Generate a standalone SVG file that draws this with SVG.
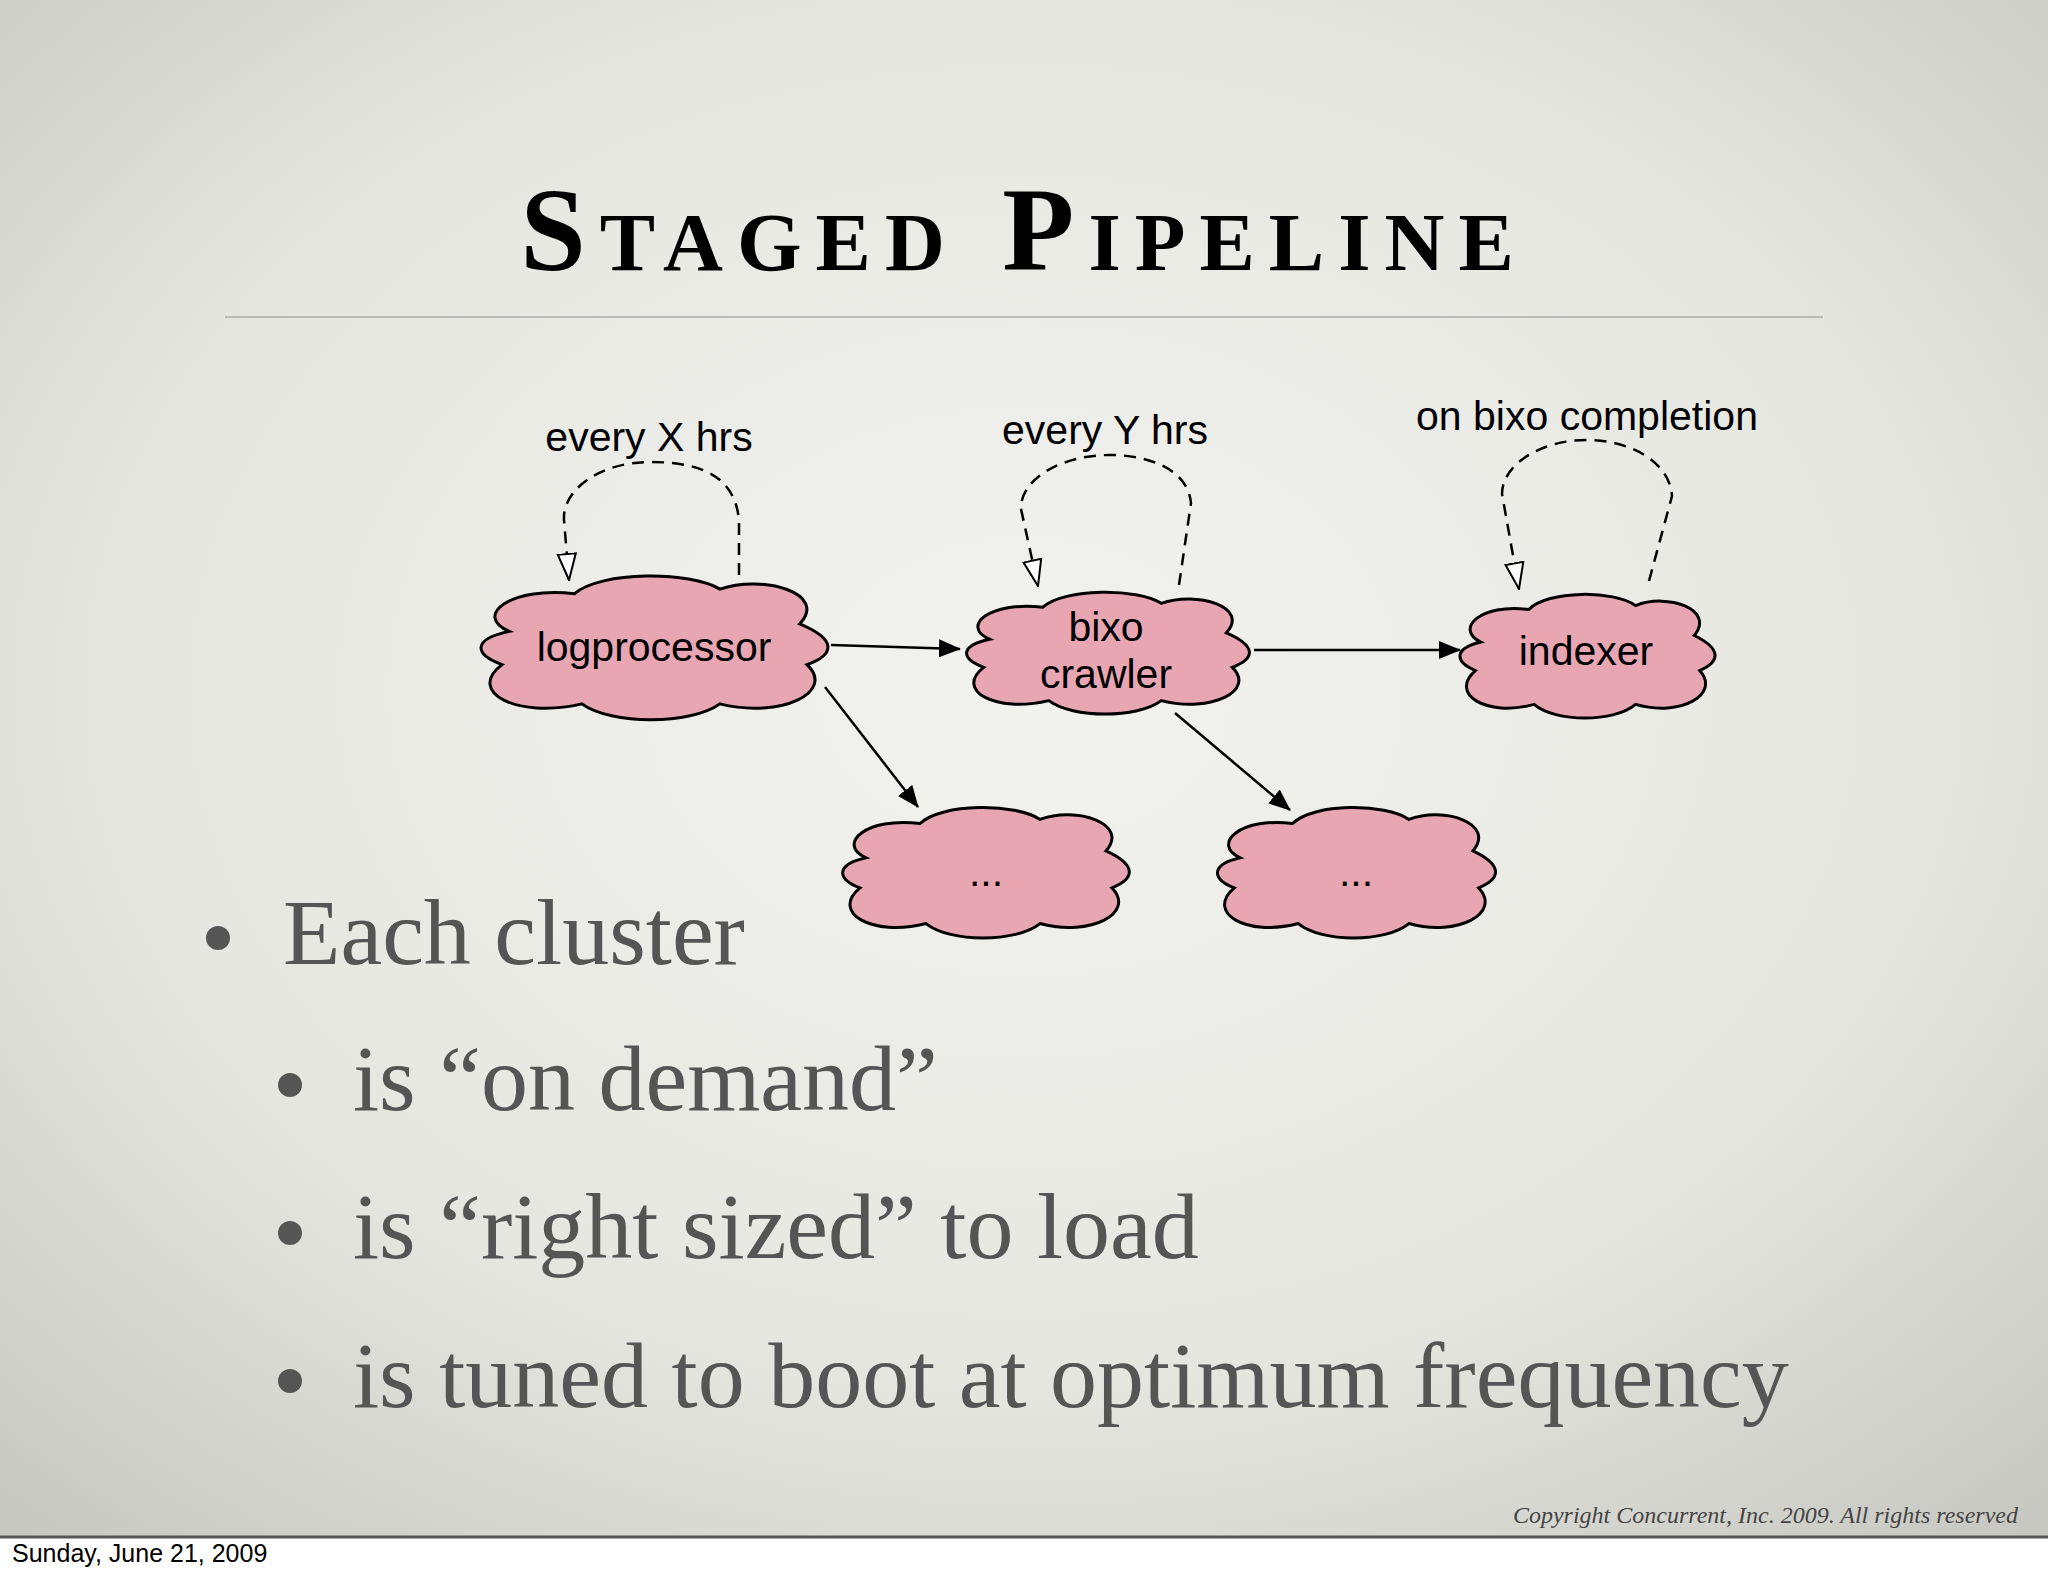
<svg xmlns="http://www.w3.org/2000/svg" width="2048" height="1576" viewBox="0 0 2048 1576">
<defs>
<radialGradient id="bg" cx="50%" cy="45%" r="75%">
<stop offset="0" stop-color="#f2f2ef"/><stop offset="0.6" stop-color="#e6e6e1"/><stop offset="1" stop-color="#c6c6c0"/>
</radialGradient>
<marker id="solid" markerWidth="22" markerHeight="18" refX="21" refY="9" orient="auto" markerUnits="userSpaceOnUse" viewBox="0 0 22 18"><path d="M0,0 L22,9 L0,18 Z" fill="#000"/></marker>
<marker id="open" markerWidth="28" markerHeight="22" refX="27" refY="11" orient="auto" markerUnits="userSpaceOnUse" viewBox="0 0 28 22"><path d="M1,2 L27,11 L1,20 Z" fill="#fff" stroke="#000" stroke-width="2"/></marker>
</defs>
<style>
.cl{fill:#e8a6b2;stroke:#000;stroke-width:3}
.nt{font-family:"Liberation Sans",Arial,sans-serif;font-size:41px;fill:#000;text-anchor:middle}
.e{fill:none;stroke:#000;stroke-width:2.5}
.lp{fill:none;stroke:#000;stroke-width:2.5;stroke-dasharray:12,8}
.b{font-family:"Liberation Serif","Times New Roman",serif;font-size:94px;fill:#555}
</style>
<rect width="2048" height="1576" fill="#fff"/>
<rect width="2048" height="1537" fill="url(#bg)"/>
<line x1="0" y1="1537" x2="2048" y2="1537" stroke="#555" stroke-width="3"/>
<text x="1024" y="270" text-anchor="middle" font-family="Liberation Serif,serif" font-weight="bold" font-size="118" font-variant="small-caps" letter-spacing="14" fill="#000">Staged Pipeline</text>
<line x1="225" y1="317" x2="1823" y2="317" stroke="#aaa" stroke-width="1.5"/>
<g id="connectors">
<line class="e" x1="831" y1="645" x2="960" y2="649" marker-end="url(#solid)"/>
<line class="e" x1="1254" y1="650" x2="1460" y2="650" marker-end="url(#solid)"/>
<line class="e" x1="825" y1="687" x2="918" y2="807" marker-end="url(#solid)"/>
<line class="e" x1="1175" y1="713" x2="1290" y2="810" marker-end="url(#solid)"/>
<path class="lp" d="M739,575 L739,522 C736,470 690,462 650,462 C600,462 562,490 564,520 L569,580" marker-end="url(#open)"/>
<path class="lp" d="M1179,585 L1191,503 C1188,470 1150,455 1110,455 C1060,455 1020,480 1021,509 L1038,586" marker-end="url(#open)"/>
<path class="lp" d="M1649,581 L1672,496 C1670,462 1630,440 1587,440 C1540,440 1502,465 1502,494 L1519,589" marker-end="url(#open)"/>
</g>
<text class="nt" x="649" y="451">every X hrs</text>
<text class="nt" x="1105" y="444">every Y hrs</text>
<text class="nt" x="1587" y="430">on bixo completion</text>
<g id="logprocessor"><path class="cl" vector-effect="non-scaling-stroke" transform="translate(473,571) scale(3.63,1.51)" d="M10,40 C0,30 10,10 28,15 C35,0 60,0 68,12 C80,2 98,15 90,35 C100,45 100,55 92,62 C100,80 85,98 68,88 C60,102 38,102 30,88 C12,98 -2,80 8,62 C0,55 0,45 10,40 Z"/><text class="nt" x="654" y="661">logprocessor</text></g>
<g id="bixo"><path class="cl" vector-effect="non-scaling-stroke" transform="translate(960,588) scale(2.96,1.28)" d="M10,40 C0,30 10,10 28,15 C35,0 60,0 68,12 C80,2 98,15 90,35 C100,45 100,55 92,62 C100,80 85,98 68,88 C60,102 38,102 30,88 C12,98 -2,80 8,62 C0,55 0,45 10,40 Z"/><text class="nt" x="1106" y="641">bixo</text><text class="nt" x="1106" y="688">crawler</text></g>
<g id="indexer"><path class="cl" vector-effect="non-scaling-stroke" transform="translate(1454,590) scale(2.67,1.30)" d="M10,40 C0,30 10,10 28,15 C35,0 60,0 68,12 C80,2 98,15 90,35 C100,45 100,55 92,62 C100,80 85,98 68,88 C60,102 38,102 30,88 C12,98 -2,80 8,62 C0,55 0,45 10,40 Z"/><text class="nt" x="1586" y="665">indexer</text></g>
<g id="dots1"><path class="cl" vector-effect="non-scaling-stroke" transform="translate(836,803) scale(3.0,1.37)" d="M10,40 C0,30 10,10 28,15 C35,0 60,0 68,12 C80,2 98,15 90,35 C100,45 100,55 92,62 C100,80 85,98 68,88 C60,102 38,102 30,88 C12,98 -2,80 8,62 C0,55 0,45 10,40 Z"/><text class="nt" x="986" y="886">...</text></g>
<g id="dots2"><path class="cl" vector-effect="non-scaling-stroke" transform="translate(1211,803) scale(2.91,1.37)" d="M10,40 C0,30 10,10 28,15 C35,0 60,0 68,12 C80,2 98,15 90,35 C100,45 100,55 92,62 C100,80 85,98 68,88 C60,102 38,102 30,88 C12,98 -2,80 8,62 C0,55 0,45 10,40 Z"/><text class="nt" x="1356" y="886">...</text></g>
<circle cx="218" cy="938" r="12" fill="#555"/>
<text class="b" x="283" y="964">Each cluster</text>
<circle cx="290" cy="1085" r="12" fill="#555"/>
<text class="b" x="353" y="1110">is “on demand”</text>
<circle cx="290" cy="1233" r="12" fill="#555"/>
<text class="b" x="353" y="1258">is “right sized” to load</text>
<circle cx="290" cy="1381" r="12" fill="#555"/>
<text class="b" x="353" y="1407">is tuned to boot at optimum frequency</text>
<text x="2018" y="1523" text-anchor="end" font-family="Liberation Serif,serif" font-style="italic" font-size="24" fill="#444">Copyright Concurrent, Inc. 2009. All rights reserved</text>
<text x="12" y="1562" font-family="Liberation Sans,sans-serif" font-size="25" fill="#000">Sunday, June 21, 2009</text>
</svg>
